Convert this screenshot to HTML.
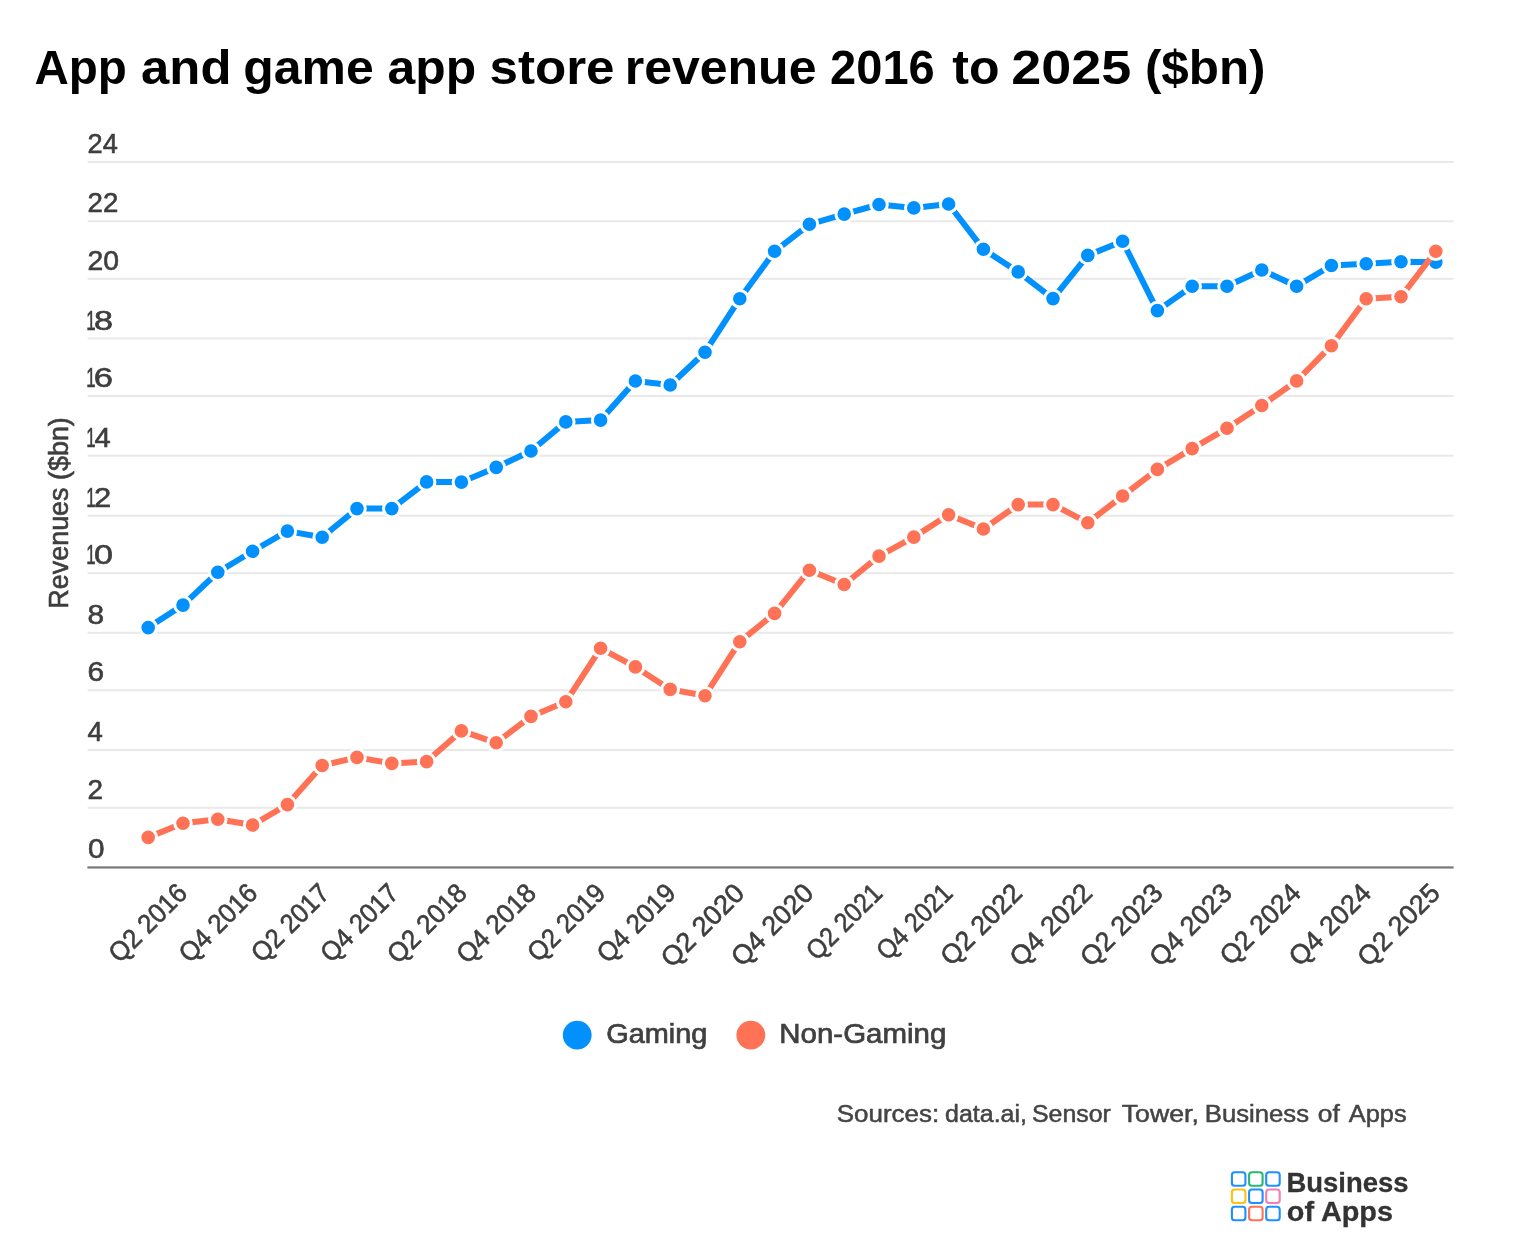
<!DOCTYPE html>
<html lang="en"><head><meta charset="utf-8"><title>App and game app store revenue 2016 to 2025 ($bn)</title>
<style>html,body{margin:0;padding:0;background:#fff}svg{display:block}text{font-family:"Liberation Sans",sans-serif}</style></head><body>
<svg width="1526" height="1244" viewBox="0 0 1526 1244">
<rect width="1526" height="1244" fill="#fff"/>
<text y="84" font-size="48.5" font-weight="700" fill="#000"><tspan x="34.5" textLength="92.4" lengthAdjust="spacingAndGlyphs">App</tspan> <tspan x="141.1" textLength="90.4" lengthAdjust="spacingAndGlyphs">and</tspan> <tspan x="243.3" textLength="130.4" lengthAdjust="spacingAndGlyphs">game</tspan> <tspan x="387.5" textLength="88.6" lengthAdjust="spacingAndGlyphs">app</tspan> <tspan x="489.5" textLength="125.0" lengthAdjust="spacingAndGlyphs">store</tspan> <tspan x="624.7" textLength="191.8" lengthAdjust="spacingAndGlyphs">revenue</tspan> <tspan x="830.1" textLength="104.6" lengthAdjust="spacingAndGlyphs">2016</tspan> <tspan x="952.3" textLength="47.2" lengthAdjust="spacingAndGlyphs">to</tspan> <tspan x="1011.3" textLength="120.0" lengthAdjust="spacingAndGlyphs">2025</tspan> <tspan x="1144.9" textLength="120.6" lengthAdjust="spacingAndGlyphs">($bn)</tspan></text>
<g fill="#e9e9e9">
<rect x="87.6" y="161.0" width="1366.0" height="2"/>
<rect x="87.6" y="220.3" width="1366.0" height="2"/>
<rect x="87.6" y="277.8" width="1366.0" height="2"/>
<rect x="87.6" y="337.5" width="1366.0" height="2"/>
<rect x="87.6" y="395.0" width="1366.0" height="2"/>
<rect x="87.6" y="454.7" width="1366.0" height="2"/>
<rect x="87.6" y="514.7" width="1366.0" height="2"/>
<rect x="87.6" y="572.1" width="1366.0" height="2"/>
<rect x="87.6" y="631.8" width="1366.0" height="2"/>
<rect x="87.6" y="689.3" width="1366.0" height="2"/>
<rect x="87.6" y="749.0" width="1366.0" height="2"/>
<rect x="87.6" y="806.8" width="1366.0" height="2"/>
</g>
<rect x="87.4" y="866.35" width="1366.2" height="2.2" fill="#777"/>
<g font-size="27" fill="#3e3e3e" stroke="#3e3e3e" stroke-width="0.6">
<text x="87.6" y="153.0" textLength="30.2" lengthAdjust="spacingAndGlyphs">24</text>
<text x="87.6" y="212.3" textLength="30.7" lengthAdjust="spacingAndGlyphs">22</text>
<text x="87.6" y="269.8" textLength="31.5" lengthAdjust="spacingAndGlyphs">20</text>
<text y="329.5"><tspan x="86.2" textLength="9.4" lengthAdjust="spacingAndGlyphs">1</tspan><tspan x="93.9" textLength="19.0" lengthAdjust="spacingAndGlyphs">8</tspan></text>
<text y="387.0"><tspan x="86.2" textLength="9.4" lengthAdjust="spacingAndGlyphs">1</tspan><tspan x="93.8" textLength="19.2" lengthAdjust="spacingAndGlyphs">6</tspan></text>
<text y="446.7"><tspan x="86.2" textLength="9.4" lengthAdjust="spacingAndGlyphs">1</tspan><tspan x="94.6" textLength="16.2" lengthAdjust="spacingAndGlyphs">4</tspan></text>
<text y="506.7"><tspan x="86.2" textLength="9.4" lengthAdjust="spacingAndGlyphs">1</tspan><tspan x="93.9" textLength="17.2" lengthAdjust="spacingAndGlyphs">2</tspan></text>
<text y="564.1"><tspan x="86.2" textLength="9.4" lengthAdjust="spacingAndGlyphs">1</tspan><tspan x="94.1" textLength="19.0" lengthAdjust="spacingAndGlyphs">0</tspan></text>
<text x="87.6" y="623.8" textLength="16.6" lengthAdjust="spacingAndGlyphs">8</text>
<text x="87.6" y="681.3" textLength="16.6" lengthAdjust="spacingAndGlyphs">6</text>
<text x="87.4" y="741.0" textLength="15.3" lengthAdjust="spacingAndGlyphs">4</text>
<text x="87.6" y="798.8" textLength="15.5" lengthAdjust="spacingAndGlyphs">2</text>
<text x="87.9" y="858.4" textLength="16.5" lengthAdjust="spacingAndGlyphs">0</text>
</g>
<text transform="translate(67.9,512.9) rotate(-90)" text-anchor="middle" font-size="27" fill="#3e3e3e" stroke="#3e3e3e" stroke-width="0.6" textLength="191.5" lengthAdjust="spacingAndGlyphs">Revenues ($bn)</text>
<g font-size="27" fill="#3e3e3e" stroke="#3e3e3e" stroke-width="0.6" text-anchor="end">
<text transform="translate(188.8,894.7) rotate(-45)" textLength="98.0" lengthAdjust="spacingAndGlyphs">Q2 2016</text>
<text transform="translate(259.0,894.7) rotate(-45)" textLength="98.0" lengthAdjust="spacingAndGlyphs">Q4 2016</text>
<text transform="translate(331.0,894.7) rotate(-45)" textLength="97.5" lengthAdjust="spacingAndGlyphs">Q2 2017</text>
<text transform="translate(400.2,894.7) rotate(-45)" textLength="97.5" lengthAdjust="spacingAndGlyphs">Q4 2017</text>
<text transform="translate(468.4,894.7) rotate(-45)" textLength="99.6" lengthAdjust="spacingAndGlyphs">Q2 2018</text>
<text transform="translate(537.6,894.7) rotate(-45)" textLength="99.6" lengthAdjust="spacingAndGlyphs">Q4 2018</text>
<text transform="translate(607.0,894.7) rotate(-45)" textLength="97.1" lengthAdjust="spacingAndGlyphs">Q2 2019</text>
<text transform="translate(677.3,894.7) rotate(-45)" textLength="98.5" lengthAdjust="spacingAndGlyphs">Q4 2019</text>
<text transform="translate(745.9,894.7) rotate(-45)" textLength="104.8" lengthAdjust="spacingAndGlyphs">Q2 2020</text>
<text transform="translate(815.1,894.7) rotate(-45)" textLength="103.4" lengthAdjust="spacingAndGlyphs">Q4 2020</text>
<text transform="translate(883.9,894.7) rotate(-45)" textLength="94.6" lengthAdjust="spacingAndGlyphs">Q2 2021</text>
<text transform="translate(954.1,894.7) rotate(-45)" textLength="94.6" lengthAdjust="spacingAndGlyphs">Q4 2021</text>
<text transform="translate(1023.7,894.7) rotate(-45)" textLength="102.3" lengthAdjust="spacingAndGlyphs">Q2 2022</text>
<text transform="translate(1093.9,894.7) rotate(-45)" textLength="103.7" lengthAdjust="spacingAndGlyphs">Q4 2022</text>
<text transform="translate(1164.3,894.7) rotate(-45)" textLength="103.5" lengthAdjust="spacingAndGlyphs">Q2 2023</text>
<text transform="translate(1233.5,894.7) rotate(-45)" textLength="103.5" lengthAdjust="spacingAndGlyphs">Q4 2023</text>
<text transform="translate(1302.4,894.7) rotate(-45)" textLength="101.5" lengthAdjust="spacingAndGlyphs">Q2 2024</text>
<text transform="translate(1372.7,894.7) rotate(-45)" textLength="103.0" lengthAdjust="spacingAndGlyphs">Q4 2024</text>
<text transform="translate(1441.6,894.7) rotate(-45)" textLength="103.6" lengthAdjust="spacingAndGlyphs">Q2 2025</text>
</g>
<polyline points="148.2,627.6 183.0,605.1 217.8,572.3 252.6,551.3 287.4,531.1 322.2,537.2 357.0,508.6 391.8,508.6 426.6,481.9 461.4,482.1 496.2,467.4 531.0,451.0 565.8,421.9 600.6,420.1 635.4,381.0 670.2,385.0 705.0,352.2 739.8,298.7 774.6,251.3 809.4,224.3 844.2,214.1 879.0,204.5 913.8,207.9 948.6,204.0 983.4,249.3 1018.2,271.9 1053.0,298.6 1087.8,255.4 1122.6,241.2 1157.4,310.6 1192.2,286.2 1227.0,286.3 1261.8,270.0 1296.6,286.2 1331.4,265.5 1366.2,263.7 1401.0,261.8 1435.8,262.2" fill="none" stroke="#0091ff" stroke-width="6" stroke-linejoin="round" stroke-linecap="round"/>
<g fill="#0091ff" stroke="#fff" stroke-width="3">
<circle cx="148.2" cy="627.6" r="8.3"/>
<circle cx="183.0" cy="605.1" r="8.3"/>
<circle cx="217.8" cy="572.3" r="8.3"/>
<circle cx="252.6" cy="551.3" r="8.3"/>
<circle cx="287.4" cy="531.1" r="8.3"/>
<circle cx="322.2" cy="537.2" r="8.3"/>
<circle cx="357.0" cy="508.6" r="8.3"/>
<circle cx="391.8" cy="508.6" r="8.3"/>
<circle cx="426.6" cy="481.9" r="8.3"/>
<circle cx="461.4" cy="482.1" r="8.3"/>
<circle cx="496.2" cy="467.4" r="8.3"/>
<circle cx="531.0" cy="451.0" r="8.3"/>
<circle cx="565.8" cy="421.9" r="8.3"/>
<circle cx="600.6" cy="420.1" r="8.3"/>
<circle cx="635.4" cy="381.0" r="8.3"/>
<circle cx="670.2" cy="385.0" r="8.3"/>
<circle cx="705.0" cy="352.2" r="8.3"/>
<circle cx="739.8" cy="298.7" r="8.3"/>
<circle cx="774.6" cy="251.3" r="8.3"/>
<circle cx="809.4" cy="224.3" r="8.3"/>
<circle cx="844.2" cy="214.1" r="8.3"/>
<circle cx="879.0" cy="204.5" r="8.3"/>
<circle cx="913.8" cy="207.9" r="8.3"/>
<circle cx="948.6" cy="204.0" r="8.3"/>
<circle cx="983.4" cy="249.3" r="8.3"/>
<circle cx="1018.2" cy="271.9" r="8.3"/>
<circle cx="1053.0" cy="298.6" r="8.3"/>
<circle cx="1087.8" cy="255.4" r="8.3"/>
<circle cx="1122.6" cy="241.2" r="8.3"/>
<circle cx="1157.4" cy="310.6" r="8.3"/>
<circle cx="1192.2" cy="286.2" r="8.3"/>
<circle cx="1227.0" cy="286.3" r="8.3"/>
<circle cx="1261.8" cy="270.0" r="8.3"/>
<circle cx="1296.6" cy="286.2" r="8.3"/>
<circle cx="1331.4" cy="265.5" r="8.3"/>
<circle cx="1366.2" cy="263.7" r="8.3"/>
<circle cx="1401.0" cy="261.8" r="8.3"/>
<circle cx="1435.8" cy="262.2" r="8.3"/>
</g>
<polyline points="148.2,837.4 183.0,823.2 217.8,819.2 252.6,825.0 287.4,804.6 322.2,765.5 357.0,757.4 391.8,763.4 426.6,761.6 461.4,730.9 496.2,742.8 531.0,716.4 565.8,701.8 600.6,648.3 635.4,666.9 670.2,689.4 705.0,695.7 739.8,641.7 774.6,613.4 809.4,570.2 844.2,584.5 879.0,556.1 913.8,537.1 948.6,514.8 983.4,529.0 1018.2,504.6 1053.0,504.6 1087.8,522.7 1122.6,496.0 1157.4,469.4 1192.2,448.6 1227.0,428.3 1261.8,405.5 1296.6,380.9 1331.4,345.7 1366.2,298.8 1401.0,296.7 1435.8,251.2" fill="none" stroke="#ff7256" stroke-width="6" stroke-linejoin="round" stroke-linecap="round"/>
<g fill="#ff7256" stroke="#fff" stroke-width="3">
<circle cx="148.2" cy="837.4" r="8.3"/>
<circle cx="183.0" cy="823.2" r="8.3"/>
<circle cx="217.8" cy="819.2" r="8.3"/>
<circle cx="252.6" cy="825.0" r="8.3"/>
<circle cx="287.4" cy="804.6" r="8.3"/>
<circle cx="322.2" cy="765.5" r="8.3"/>
<circle cx="357.0" cy="757.4" r="8.3"/>
<circle cx="391.8" cy="763.4" r="8.3"/>
<circle cx="426.6" cy="761.6" r="8.3"/>
<circle cx="461.4" cy="730.9" r="8.3"/>
<circle cx="496.2" cy="742.8" r="8.3"/>
<circle cx="531.0" cy="716.4" r="8.3"/>
<circle cx="565.8" cy="701.8" r="8.3"/>
<circle cx="600.6" cy="648.3" r="8.3"/>
<circle cx="635.4" cy="666.9" r="8.3"/>
<circle cx="670.2" cy="689.4" r="8.3"/>
<circle cx="705.0" cy="695.7" r="8.3"/>
<circle cx="739.8" cy="641.7" r="8.3"/>
<circle cx="774.6" cy="613.4" r="8.3"/>
<circle cx="809.4" cy="570.2" r="8.3"/>
<circle cx="844.2" cy="584.5" r="8.3"/>
<circle cx="879.0" cy="556.1" r="8.3"/>
<circle cx="913.8" cy="537.1" r="8.3"/>
<circle cx="948.6" cy="514.8" r="8.3"/>
<circle cx="983.4" cy="529.0" r="8.3"/>
<circle cx="1018.2" cy="504.6" r="8.3"/>
<circle cx="1053.0" cy="504.6" r="8.3"/>
<circle cx="1087.8" cy="522.7" r="8.3"/>
<circle cx="1122.6" cy="496.0" r="8.3"/>
<circle cx="1157.4" cy="469.4" r="8.3"/>
<circle cx="1192.2" cy="448.6" r="8.3"/>
<circle cx="1227.0" cy="428.3" r="8.3"/>
<circle cx="1261.8" cy="405.5" r="8.3"/>
<circle cx="1296.6" cy="380.9" r="8.3"/>
<circle cx="1331.4" cy="345.7" r="8.3"/>
<circle cx="1366.2" cy="298.8" r="8.3"/>
<circle cx="1401.0" cy="296.7" r="8.3"/>
<circle cx="1435.8" cy="251.2" r="8.3"/>
</g>
<circle cx="577.2" cy="1035.1" r="14.4" fill="#0091ff"/>
<circle cx="750.8" cy="1035.1" r="14.4" fill="#ff7256"/>
<g font-size="27.6" fill="#404040" stroke="#404040" stroke-width="0.7">
<text x="606.3" y="1043.1" textLength="101" lengthAdjust="spacingAndGlyphs">Gaming</text>
<text x="779.3" y="1043.1" textLength="167" lengthAdjust="spacingAndGlyphs">Non-Gaming</text>
</g>
<text y="1121.5" font-size="23.5" fill="#444" stroke="#444" stroke-width="0.5"><tspan x="836.8" textLength="102.4" lengthAdjust="spacingAndGlyphs">Sources:</tspan> <tspan x="945.0" textLength="82.0" lengthAdjust="spacingAndGlyphs">data.ai,</tspan> <tspan x="1032.0" textLength="78.8" lengthAdjust="spacingAndGlyphs">Sensor</tspan> <tspan x="1121.8" textLength="77.0" lengthAdjust="spacingAndGlyphs">Tower,</tspan> <tspan x="1204.8" textLength="104.2" lengthAdjust="spacingAndGlyphs">Business</tspan> <tspan x="1317.8" textLength="22.0" lengthAdjust="spacingAndGlyphs">of</tspan> <tspan x="1348.8" textLength="57.8" lengthAdjust="spacingAndGlyphs">Apps</tspan></text>
<g fill="none" stroke-width="2.1">
<rect x="1231.9" y="1172.3" width="13.5" height="13.5" rx="2.8" stroke="#1e90ff"/>
<rect x="1249.1" y="1172.3" width="13.5" height="13.5" rx="2.8" stroke="#2bb673"/>
<rect x="1266.2" y="1172.3" width="13.5" height="13.5" rx="2.8" stroke="#1e90ff"/>
<rect x="1231.9" y="1189.5" width="13.5" height="13.5" rx="2.8" stroke="#ffc20e"/>
<rect x="1249.1" y="1189.5" width="13.5" height="13.5" rx="2.8" stroke="#1e90ff"/>
<rect x="1266.2" y="1189.5" width="13.5" height="13.5" rx="2.8" stroke="#f27fb2"/>
<rect x="1231.9" y="1206.7" width="13.5" height="13.5" rx="2.8" stroke="#1e90ff"/>
<rect x="1249.1" y="1206.7" width="13.5" height="13.5" rx="2.8" stroke="#ff7256"/>
<rect x="1266.2" y="1206.7" width="13.5" height="13.5" rx="2.8" stroke="#1e90ff"/>
</g>
<g font-size="27.8" font-weight="700" fill="#333" stroke="#333" stroke-width="0.3">
<text x="1286.5" y="1191.8" textLength="122" lengthAdjust="spacingAndGlyphs">Business</text>
<text x="1286.8" y="1220.6" textLength="106.2" lengthAdjust="spacingAndGlyphs">of Apps</text>
</g>
</svg></body></html>
